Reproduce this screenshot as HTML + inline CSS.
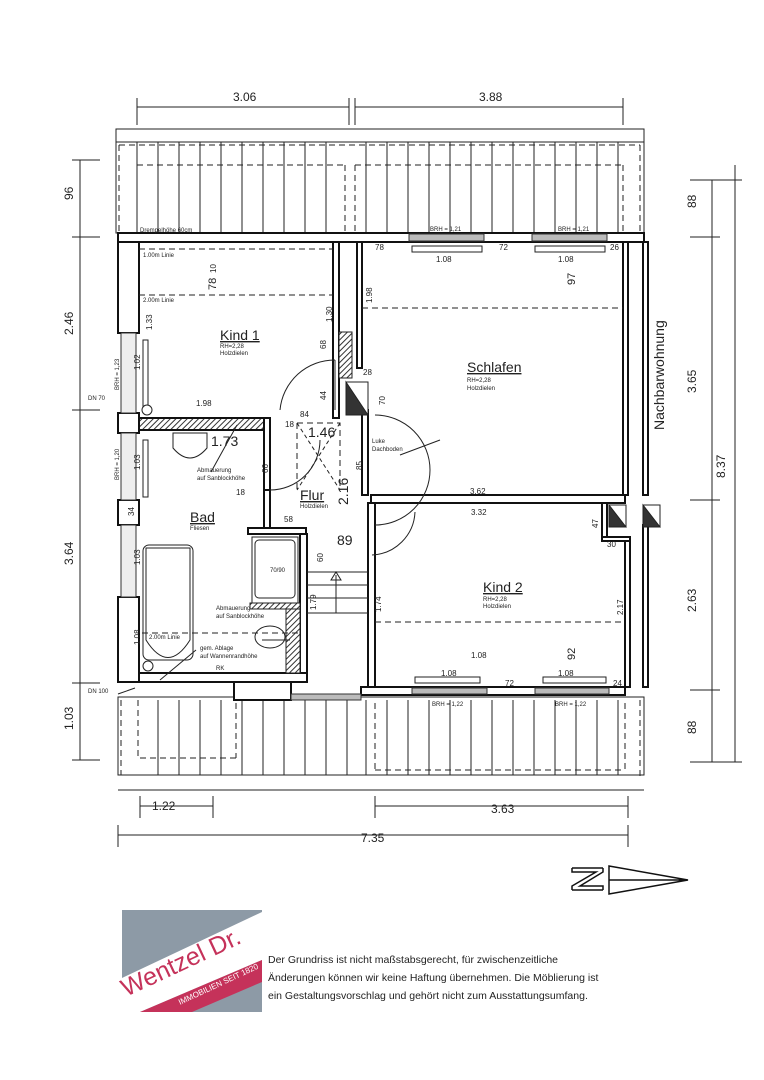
<!DOCTYPE html>
<html><head><meta charset="utf-8"><style>
html,body{margin:0;padding:0;background:#fff;}
svg{display:block;}
text{font-family:"Liberation Sans",sans-serif;fill:#222;}
</style></head><body>
<svg width="764" height="1080" viewBox="0 0 764 1080" xmlns="http://www.w3.org/2000/svg">
<defs>
<pattern id="h" width="4" height="4" patternUnits="userSpaceOnUse" patternTransform="rotate(45)"><rect width="4" height="4" fill="#fff"/><line x1="0" y1="0" x2="0" y2="4" stroke="#333" stroke-width="2"/></pattern>
</defs>
<g stroke="#222" fill="none" stroke-width="1">
<line x1="137" y1="107" x2="349" y2="107"/><line x1="355" y1="107" x2="623" y2="107"/>
<line x1="137" y1="98" x2="137" y2="125"/><line x1="349" y1="98" x2="349" y2="125"/><line x1="355" y1="98" x2="355" y2="125"/><line x1="623" y1="98" x2="623" y2="125"/>
<rect x="116" y="129" width="528" height="104"/>
<line x1="116" y1="142" x2="644" y2="142"/>
<path d="M119 145 H640 M137 165 H345 M355 165 H623 M119 145 V233 M137 165 V233 M355 165 V233 M623 165 V233 M345 165 V233 M640 145 V233" stroke-dasharray="6,4"/>
<path d="M137 142V233M158 142V233M179 142V233M200 142V233M221 142V233M242 142V233M263 142V233M284 142V233M305 142V233M326 142V233M366 142V233M387 142V233M408 142V233M429 142V233M450 142V233M471 142V233M492 142V233M513 142V233M534 142V233M555 142V233M576 142V233M597 142V233M618 142V233"/>
<rect x="118" y="697" width="526" height="78"/>
<line x1="118" y1="790" x2="644" y2="790"/>
<path d="M121 700 V775 M138 700 V758 H240 M236 703 V758 M375 703 V770 M625 703 V770 M640 700 V778 M375 770 H625 M121 775 H640" stroke-dasharray="6,4"/>
<path d="M158 700V775M179 700V775M200 700V775M221 700V775M242 700V775M263 700V775M284 700V775M305 700V775M326 700V775M347 700V775M366 700V775M387 700V775M408 700V775M429 700V775M450 700V775M471 700V775M492 700V775M513 700V775M534 700V775M555 700V775M576 700V775M597 700V775M618 700V775"/>
<line x1="140" y1="806" x2="213" y2="806"/><line x1="140" y1="796" x2="140" y2="818"/><line x1="213" y1="796" x2="213" y2="818"/>
<line x1="375" y1="806" x2="628" y2="806"/><line x1="375" y1="796" x2="375" y2="818"/><line x1="628" y1="796" x2="628" y2="818"/>
<line x1="118" y1="835" x2="628" y2="835"/><line x1="118" y1="825" x2="118" y2="847"/><line x1="628" y1="825" x2="628" y2="847"/>
<line x1="80" y1="160" x2="80" y2="760"/>
<path d="M72 160 H100 M72 237 H100 M72 410 H100 M72 683 H100 M72 760 H100"/>
<line x1="712" y1="180" x2="712" y2="762"/><line x1="735" y1="165" x2="735" y2="762"/>
<path d="M690 180 H742 M690 237 H720 M690 500 H720 M690 690 H720 M690 762 H742"/>
</g>
<g fill="#fff" stroke="#111" stroke-width="2">
<rect x="118" y="233" width="526" height="9"/>
<rect x="118" y="242" width="21" height="91"/>
<rect x="118" y="597" width="21" height="85"/>
<rect x="118" y="413" width="21" height="20"/>
<rect x="118" y="500" width="21" height="25"/>
<rect x="333" y="242" width="6" height="176"/>
<rect x="357" y="242" width="5" height="126"/>
<rect x="139" y="418" width="126" height="12" fill="url(#h)"/>
<rect x="264" y="418" width="6" height="72"/>
<rect x="264" y="490" width="6" height="38"/>
<rect x="248" y="528" width="58" height="6"/>
<rect x="300" y="534" width="7" height="148"/>
<rect x="139" y="673" width="168" height="9"/>
<rect x="234" y="682" width="57" height="18"/>
<rect x="371" y="495" width="254" height="8"/>
<rect x="362" y="410" width="6" height="85"/>
<rect x="368" y="503" width="7" height="184"/>
<rect x="361" y="687" width="264" height="8"/>
<rect x="623" y="242" width="5" height="253"/>
<rect x="643" y="242" width="5" height="253"/>
<rect x="625" y="537" width="5" height="150"/>
<rect x="643" y="525" width="5" height="162"/>
<rect x="602" y="503" width="5" height="34"/>
<rect x="602" y="537" width="28" height="4"/>
</g>
<g fill="#bbb" stroke="#333" stroke-width="1">
<rect x="409" y="234" width="75" height="7"/><rect x="532" y="234" width="75" height="7"/>
<rect x="412" y="688" width="75" height="6"/><rect x="535" y="688" width="74" height="6"/>
<rect x="291" y="694" width="70" height="6"/>
<rect x="121" y="333" width="15" height="80" fill="#eee"/><rect x="121" y="433" width="15" height="67" fill="#eee"/><rect x="121" y="525" width="15" height="72" fill="#eee"/>
</g>
<g fill="#fff" stroke="#222" stroke-width="1">
<rect x="412" y="246" width="70" height="6"/><rect x="535" y="246" width="70" height="6"/>
<rect x="415" y="677" width="65" height="6"/><rect x="543" y="677" width="63" height="6"/>
<rect x="143" y="340" width="5" height="68"/><rect x="143" y="440" width="5" height="57"/>
<rect x="339" y="332" width="13" height="46" fill="url(#h)"/>
<rect x="346" y="382" width="22" height="33"/>
<path d="M346 382 L368 415 L346 415Z" fill="#333"/>
<rect x="609" y="505" width="17" height="22"/><path d="M609 505 L626 527 L609 527Z" fill="#333"/>
<rect x="643" y="505" width="17" height="22"/><path d="M643 505 L660 527 L643 527Z" fill="#333"/>
<rect x="143" y="545" width="50" height="115" rx="6"/>
<path d="M146 548 H190 V640 Q168 675 146 640Z"/>
<rect x="252" y="537" width="46" height="66"/><rect x="255" y="540" width="40" height="58" rx="4"/>
<rect x="250" y="603" width="50" height="6" fill="url(#h)"/>
<rect x="286" y="609" width="14" height="64" fill="url(#h)"/>
<ellipse cx="270" cy="637" rx="15" ry="11"/>
<path d="M173 433 H207 V448 Q190 468 173 448Z"/>
<circle cx="147" cy="410" r="5"/><circle cx="148" cy="666" r="5"/>
</g>
<g fill="none" stroke="#222" stroke-width="1">
<path d="M335 360 A55 55 0 0 0 280 410"/><line x1="335" y1="360" x2="335" y2="410"/>
<path d="M270 490 A50 50 0 0 0 320 440"/>
<path d="M375 415 A55 55 0 0 1 430 470 A55 55 0 0 1 375 525"/>
<path d="M372 555 A45 45 0 0 0 415 512"/>
<path d="M139 249 H333 M139 295 H333 M362 308 H623 M375 622 H625 M142 633 H300 M297 423 H340 V490 M297 423 V490" stroke-dasharray="6,4"/>
<path d="M297 423 L340 490 M340 423 L297 490" stroke-dasharray="4,3"/>
<path d="M307 572 H368 M307 585 H368 M307 598 H368 M307 613 H368"/>
<path d="M336 613 V575 M331 580 L336 572 L341 580Z"/>
<path d="M237 425 L211 472 M196 650 L160 680 M135 688 L118 694 M262 640 L290 640"/>
<path d="M440 440 L400 455"/>
</g>
<g stroke="#111" fill="none" stroke-width="1.5">
<path d="M572 868 H603 M572 890 H603 M572 868 V872 H596 L572 886 V890 M603 868 V872 L580 886 H603 V890"/>
<path d="M609 866 L688 880 L609 894Z M609 880 H688"/>
</g>
<g font-size="12">
<text x="233" y="101">3.06</text><text x="479" y="101">3.88</text>
<text x="152" y="810">1.22</text><text x="491" y="813">3.63</text><text x="361" y="842">7.35</text>
<text transform="translate(73,200) rotate(-90)">96</text>
<text transform="translate(73,335) rotate(-90)">2.46</text>
<text transform="translate(73,565) rotate(-90)">3.64</text>
<text transform="translate(73,730) rotate(-90)">1.03</text>
<text transform="translate(696,208) rotate(-90)">88</text>
<text transform="translate(696,393) rotate(-90)">3.65</text>
<text transform="translate(696,612) rotate(-90)">2.63</text>
<text transform="translate(696,734) rotate(-90)">88</text>
<text transform="translate(725,478) rotate(-90)">8.37</text>
<text transform="translate(664,430) rotate(-90)" font-size="14">Nachbarwohnung</text>
</g>
<g font-size="14">
<text x="220" y="340" text-decoration="underline">Kind 1</text>
<text x="467" y="372" text-decoration="underline">Schlafen</text>
<text x="483" y="592" text-decoration="underline">Kind 2</text>
<text x="190" y="522" text-decoration="underline">Bad</text>
<text x="300" y="500" text-decoration="underline">Flur</text>
<text x="211" y="446">1.73</text><text x="308" y="437">1.46</text><text x="337" y="545">89</text>
<text transform="translate(348,505) rotate(-90)">2.16</text>
</g>
<g font-size="6">
<text x="220" y="348">RH=2,28</text><text x="220" y="355">Holzdielen</text>
<text x="467" y="382">RH=2,28</text><text x="467" y="390">Holzdielen</text>
<text x="483" y="601">RH=2,28</text><text x="483" y="608">Holzdielen</text>
<text x="190" y="530">Fliesen</text><text x="300" y="508">Holzdielen</text>
<text x="140" y="232">Drempelhöhe 60cm</text><text x="143" y="257">1.00m Linie</text><text x="143" y="302">2.00m Linie</text>
<text x="149" y="639">2.00m Linie</text>
<text x="197" y="472">Abmauerung</text><text x="197" y="480">auf Sanblockhöhe</text>
<text x="216" y="610">Abmauerung</text><text x="216" y="618">auf Sanblockhöhe</text>
<text x="200" y="650">gem. Ablage</text><text x="200" y="658">auf Wannenrandhöhe</text>
<text x="216" y="670">RK</text><text x="270" y="572">70/90</text>
<text x="372" y="443">Luke</text><text x="372" y="451">Dachboden</text>
<text x="430" y="231">BRH = 1,21</text><text x="558" y="231">BRH = 1,21</text>
<text x="432" y="706">BRH = 1,22</text><text x="555" y="706">BRH = 1,22</text>
<text x="88" y="400">DN 70</text><text x="88" y="693">DN 100</text>
<text transform="translate(119,390) rotate(-90)">BRH = 1,23</text>
<text transform="translate(119,480) rotate(-90)">BRH = 1,20</text>
</g>
<g font-size="8">
<text x="375" y="250">78</text><text x="499" y="250">72</text><text x="610" y="250">26</text>
<text x="436" y="262">1.08</text><text x="558" y="262">1.08</text>
<text x="470" y="494">3.62</text><text x="471" y="515">3.32</text>
<text x="471" y="658">1.08</text><text x="441" y="676">1.08</text><text x="558" y="676">1.08</text>
<text x="505" y="686">72</text><text x="613" y="686">24</text><text x="607" y="547">30</text>
<text x="196" y="406">1.98</text><text x="300" y="417">84</text><text x="363" y="375">28</text>
<text x="285" y="427">18</text><text x="236" y="495">18</text><text x="284" y="522">58</text>
<text transform="translate(216,273) rotate(-90)">10</text>
<text transform="translate(216,290) rotate(-90)" font-size="11">78</text>
<text transform="translate(575,285) rotate(-90)" font-size="11">97</text>
<text transform="translate(575,660) rotate(-90)" font-size="11">92</text>
<text transform="translate(372,303) rotate(-90)">1.98</text>
<text transform="translate(152,330) rotate(-90)">1.33</text>
<text transform="translate(332,322) rotate(-90)">1.30</text>
<text transform="translate(316,610) rotate(-90)">1.79</text>
<text transform="translate(381,612) rotate(-90)">1.74</text>
<text transform="translate(623,615) rotate(-90)">2.17</text>
<text transform="translate(140,370) rotate(-90)">1.02</text>
<text transform="translate(140,470) rotate(-90)">1.03</text>
<text transform="translate(140,565) rotate(-90)">1.03</text>
<text transform="translate(134,516) rotate(-90)">34</text>
<text transform="translate(140,645) rotate(-90)">1.08</text>
<text transform="translate(326,349) rotate(-90)">68</text>
<text transform="translate(326,400) rotate(-90)">44</text>
<text transform="translate(385,405) rotate(-90)">70</text>
<text transform="translate(268,473) rotate(-90)">66</text>
<text transform="translate(362,470) rotate(-90)">85</text>
<text transform="translate(323,562) rotate(-90)">60</text>
<text transform="translate(598,528) rotate(-90)">47</text>
</g>
<!-- logo -->
<rect x="122" y="910" width="140" height="102" fill="#8d9aa6"/>
<path d="M122 978 L262 912 L262 960 L140 1012 L122 1012Z" fill="#fff"/>
<path d="M140 1012 L262 960 L262 982 L192 1012Z" fill="#c5325a"/>
<text x="0" y="0" font-size="25" transform="translate(126,997) rotate(-25)" style="fill:#c5325a;">Wentzel Dr.</text>
<text x="0" y="0" font-size="8" transform="translate(180,1005) rotate(-25)" style="fill:#fff;">IMMOBILIEN SEIT 1820</text>
<g font-size="10.5">
<text x="268" y="963">Der Grundriss ist nicht maßstabsgerecht, für zwischenzeitliche</text>
<text x="268" y="981">Änderungen können wir keine Haftung übernehmen. Die Möblierung ist</text>
<text x="268" y="999">ein Gestaltungsvorschlag und gehört nicht zum Ausstattungsumfang.</text>
</g>
</svg>
</body></html>
